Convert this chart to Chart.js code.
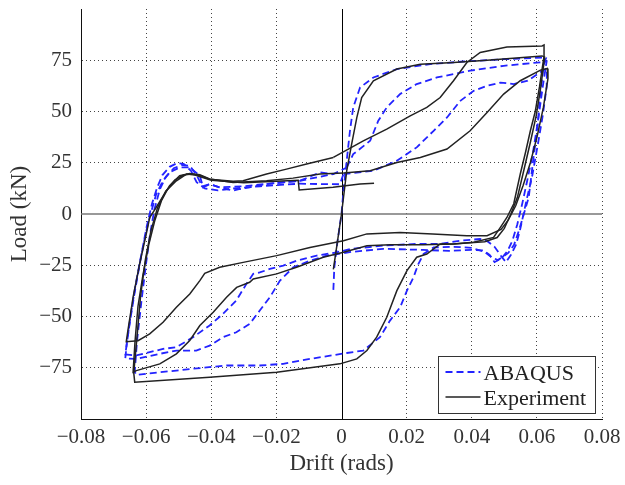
<!DOCTYPE html>
<html lang="en">
  <head>
    <meta charset="utf-8" />
    <title>Load vs drift hysteresis</title>
    <style>
      html, body { margin: 0; padding: 0; background: #fff; }
      #wrap { width: 625px; height: 485px; }
    </style>
  </head>
  <body>
    <div id="wrap"><canvas id="myChart" width="625" height="485"></canvas></div>
    <script src="https://cdn.jsdelivr.net/npm/chart.js"></script>
    <script>
      // axis ticks
      const xTicks = [-0.08, -0.06, -0.04, -0.02, 0, 0.02, 0.04, 0.06, 0.08];
      const yTicks = [-100, -75, -50, -25, 0, 25, 50, 75, 100];
      const seriesNames = ["ABAQUS", "Experiment"];

      // experiment, [drift, load] pairs
      const expLoopStiff = [
        [-0.0025, -27], [-0.0012, -13], [0, 0], [0.0016, 21], [0.0031, 34], [0.0047, 47],
        [0.0062, 56.8], [0.0098, 65], [0.017, 70.7], [0.0242, 73.1], [0.0344, 73.9],
        [0.0447, 75], [0.0616, 77.1], [0.0624, 76.5],
        [0.0612, 62], [0.0598, 48], [0.058, 35], [0.0558, 20], [0.054, 8], [0.052, 0],
        [0.05, -7], [0.0478, -11.5], [0.044, -13.5], [0.0395, -14], [0.0344, -14.6], [0.0303, -14.6],
        [0.0262, -19.5], [0.0231, -21.1], [0.0201, -27.6], [0.017, -37.4], [0.0139, -50.4],
        [0.0108, -60.1], [0.0078, -66.6], [0.0047, -70.7], [-0.0005, -73.1], [-0.0199, -77.2],
        [-0.0405, -79.6], [-0.0635, -82.1], [-0.0638, -77.5],
        [-0.0628, -60], [-0.0617, -40], [-0.0602, -22], [-0.0585, -8], [-0.0565, 3],
        [-0.054, 11], [-0.0512, 16.5], [-0.0485, 19], [-0.046, 19.5], [-0.043, 18.5],
        [-0.0405, 17], [-0.0333, 16], [-0.0302, 16.2], [-0.023, 19.5], [-0.0169, 21.9],
        [-0.0107, 24.4], [-0.0025, 27.6]
      ];
      const expLoopS = [
        [-0.0025, 27.6], [0.0067, 35.7], [0.0139, 41.4], [0.0211, 47.9], [0.0262, 52],
        [0.0303, 56.8], [0.0344, 65], [0.0385, 73.9], [0.0426, 78.8], [0.0508, 81.5],
        [0.0616, 82], [0.0622, 82.5], [0.0622, 77],
        [0.0608, 62], [0.0595, 50], [0.058, 40.6], [0.0565, 30], [0.0549, 19.5], [0.0529, 5],
        [0.0508, -1.7], [0.0488, -6.5], [0.0467, -11.4], [0.0406, -13.8], [0.0344, -14.6],
        [0.025, -15], [0.015, -15], [0.0078, -15.5], [0.0006, -18.7], [-0.0056, -21.1],
        [-0.0138, -26], [-0.0199, -29.2], [-0.0271, -31.7], [-0.0282, -33.3], [-0.0322, -35.8],
        [-0.0353, -40.6], [-0.0394, -47.9], [-0.0435, -54.4], [-0.0466, -61.7], [-0.0507, -68.2],
        [-0.0558, -73.1], [-0.063, -76.4], [-0.064, -77.2],
        [-0.0634, -62], [-0.0625, -45], [-0.061, -30], [-0.0592, -15], [-0.0573, -3],
        [-0.0553, 6.5], [-0.0528, 13.8], [-0.0497, 18.7], [-0.0466, 19.8], [-0.0435, 19.2],
        [-0.0405, 17.1], [-0.0333, 15.4], [-0.023, 16.2], [-0.0149, 17.5], [-0.0066, 19.5],
        [0.0006, 20]
      ];
      const expLoopLow = [
        [0.0006, 20], [0.0088, 21.1], [0.017, 25.1], [0.0242, 27.6], [0.0324, 31.7],
        [0.0395, 40.6], [0.0447, 49.5], [0.0498, 58.5], [0.0549, 65], [0.0611, 70.2],
        [0.0632, 71], [0.0634, 66],
        [0.062, 52], [0.0601, 38], [0.058, 25], [0.0558, 14], [0.0535, 4], [0.0512, -3],
        [0.049, -7.5], [0.0447, -10.6], [0.0385, -10.6], [0.028, -9.7], [0.018, -9],
        [0.0078, -9.7], [0.0006, -13], [-0.0097, -16.3], [-0.0199, -20.3], [-0.0302, -23.6],
        [-0.0374, -26], [-0.042, -28.9], [-0.0435, -32.5], [-0.0466, -39], [-0.0507, -45.5],
        [-0.0548, -52.8], [-0.0589, -58.5], [-0.0625, -61.8], [-0.0661, -62.3],
        [-0.0656, -56.9], [-0.064, -40.6], [-0.062, -24.4], [-0.06, -10], [-0.0589, -1.7],
        [-0.0569, 3.2], [-0.0538, 11.4], [-0.0507, 16.2], [-0.0476, 19.5], [-0.045, 19],
        [-0.04, 16.5], [-0.03, 15.2], [-0.02, 16], [-0.0133, 16.5], [-0.013, 11.7],
        [-0.0026, 13], [0.0057, 14.6], [0.01, 15]
      ];

      // ABAQUS model, [drift, load] pairs
      const abqLoopOuter = [
        [-0.0025, -37], [-0.0022, -26], [-0.0012, -13], [0, 0], [0.0006, 11.4], [0.0026, 40.6],
        [0.0036, 52], [0.0057, 61.7], [0.0098, 66.6], [0.017, 70.7], [0.0272, 73.1],
        [0.0375, 74.4], [0.0498, 75.5], [0.0616, 76.3], [0.0628, 76],
        [0.0621, 73], [0.061, 58], [0.0601, 40.6], [0.059, 28], [0.0575, 8.1], [0.056, 0],
        [0.0545, -8], [0.053, -15], [0.0512, -19], [0.0495, -21], [0.048, -22.5], [0.046, -21],
        [0.044, -18.5], [0.04, -16.5], [0.0345, -16], [0.0283, -16.3],
        [0.0252, -19.5], [0.0236, -24.4], [0.0221, -30.9], [0.0201, -37.4], [0.018, -45.5],
        [0.0149, -52], [0.0118, -60.1], [0.0067, -66.6], [0.0016, -67.8], [-0.0097, -70.7],
        [-0.0179, -73.1], [-0.0251, -73.9], [-0.0353, -73.9], [-0.0456, -75.5], [-0.0558, -77.2],
        [-0.063, -78.5], [-0.0635, -77],
        [-0.0628, -62], [-0.0614, -42], [-0.06, -24], [-0.0588, -10], [-0.0575, 2],
        [-0.0558, 12], [-0.054, 18], [-0.0515, 22.3], [-0.049, 24], [-0.0466, 23.5],
        [-0.0445, 19], [-0.0428, 13.5], [-0.0405, 14.6], [-0.0374, 13], [-0.0333, 11.4],
        [-0.0312, 12.2], [-0.023, 14.6], [-0.0128, 16.2], [-0.0025, 19.5], [0.0016, 22.7]
      ];
      const abqLoopMid = [
        [0.0016, 22.7], [0.0036, 29.2], [0.0088, 35.7], [0.0113, 45.5], [0.0139, 52],
        [0.018, 58.5], [0.0231, 63.4], [0.0293, 66.6], [0.0395, 69.9], [0.0498, 72.3],
        [0.0611, 74], [0.063, 74.5],
        [0.0618, 62], [0.0604, 46], [0.0588, 30], [0.057, 16], [0.0555, 5], [0.054, -5],
        [0.0525, -13], [0.051, -18], [0.0492, -21.5], [0.047, -23.5], [0.0455, -20],
        [0.0436, -17.8], [0.04, -17.5], [0.033, -18], [0.025, -17.5], [0.0128, -17], [0.003, -18.5],
        [-0.0046, -20.3], [-0.0097, -22.8], [-0.0148, -26], [-0.0189, -32.5], [-0.022, -40.6],
        [-0.0251, -47.1], [-0.0282, -53.6], [-0.0323, -57.7], [-0.0364, -60.1], [-0.0405, -64.2],
        [-0.0446, -66.6], [-0.0507, -66.6], [-0.0558, -68.2], [-0.063, -70.7], [-0.0664, -70.5],
        [-0.066, -64], [-0.0648, -50], [-0.0633, -35], [-0.0615, -20], [-0.0598, -6],
        [-0.0582, 5], [-0.0566, 13], [-0.055, 19], [-0.0528, 23], [-0.0505, 24.8],
        [-0.0485, 24.5], [-0.0462, 21], [-0.0445, 15.5], [-0.042, 12.5], [-0.038, 11.5],
        [-0.033, 12.5], [-0.025, 13.5], [-0.0128, 14.8], [-0.0066, 14.6], [-0.0005, 14.5],
        [0.0006, 19.5]
      ];
      const abqLoopInner = [
        [0.0006, 19.5], [0.0098, 21.1], [0.017, 26], [0.0231, 32.5], [0.0283, 40.6],
        [0.0324, 47.1], [0.0365, 55.2], [0.0406, 60.1], [0.0447, 62.5], [0.0488, 64.1],
        [0.0529, 63.4], [0.0572, 65], [0.0616, 69.8], [0.0631, 71],
        [0.063, 62], [0.0618, 48], [0.0602, 33], [0.0585, 18], [0.057, 8], [0.0559, 0],
        [0.0548, -8], [0.0536, -15], [0.052, -20], [0.0505, -23.5], [0.049, -20.5],
        [0.047, -16], [0.045, -13.5], [0.0426, -12.2], [0.0365, -13], [0.0303, -14.6],
        [0.023, -14.6], [0.0128, -15.4], [0.0026, -17.1], [-0.0015, -18.7],
        [-0.0076, -20.3], [-0.0138, -22.8], [-0.0179, -25.2], [-0.022, -26.8], [-0.0251, -28.5],
        [-0.0271, -29.2], [-0.0292, -34.1], [-0.0323, -42.2], [-0.0364, -48.7], [-0.0405, -54.4],
        [-0.0456, -60.1], [-0.0507, -65], [-0.0548, -65.8], [-0.0589, -67.4], [-0.063, -69],
        [-0.0664, -68.5],
        [-0.0652, -55], [-0.0637, -40], [-0.0618, -23], [-0.0602, -10], [-0.0589, -1.6],
        [-0.0569, 9.7], [-0.0548, 16.2], [-0.0528, 20.3], [-0.0497, 22.7], [-0.0466, 22.7],
        [-0.0435, 18.7], [-0.0425, 13], [-0.0405, 14.6], [-0.0374, 13], [-0.03, 13.5],
        [-0.02, 15.2], [-0.0128, 16.2], [-0.0066, 20.3], [-0.0025, 19.5]
      ];

      const expLoops = [expLoopStiff, expLoopS, expLoopLow];
      const abqLoops = [abqLoopOuter, abqLoopMid, abqLoopInner];

      const BLUE = "rgb(35, 35, 255)";
      const BLACK = "#222";
      const SERIF = '"Liberation Serif", "DejaVu Serif", serif';
      const nearZero = (v) => Math.abs(v) < 1e-9;

      const toPoints = (loop) => loop.map(([x, y]) => ({ x: x, y: y }));

      const datasets = [];
      expLoops.forEach((loop) => {
        datasets.push({
          label: seriesNames[1],
          data: toPoints(loop),
          showLine: true,
          borderColor: BLACK,
          borderWidth: 1.5,
          pointRadius: 0,
          tension: 0,
          fill: false,
        });
      });
      abqLoops.forEach((loop) => {
        datasets.push({
          label: seriesNames[0],
          data: toPoints(loop),
          showLine: true,
          borderColor: BLUE,
          borderWidth: 1.8,
          borderDash: [7, 4],
          pointRadius: 0,
          tension: 0,
          fill: false,
        });
      });

      // solid zero lines + boxed legend in lower right
      const extras = {
        id: "extras",
        beforeDatasetsDraw(chart) {
          const { ctx, chartArea: a, scales } = chart;
          const y0 = scales.y.getPixelForValue(0);
          const x0 = scales.x.getPixelForValue(0);
          ctx.save();
          ctx.strokeStyle = "#777";
          ctx.lineWidth = 1.6;
          ctx.beginPath();
          ctx.moveTo(a.left, y0);
          ctx.lineTo(a.right, y0);
          ctx.stroke();
          ctx.strokeStyle = "#000";
          ctx.lineWidth = 1;
          ctx.beginPath();
          ctx.moveTo(Math.round(x0) + 0.5, a.top);
          ctx.lineTo(Math.round(x0) + 0.5, a.bottom);
          ctx.stroke();
          ctx.restore();
        },
        afterDatasetsDraw(chart) {
          const { ctx, chartArea: a } = chart;
          const bx = a.right - 163.5, by = a.bottom - 62.5, bw = 157, bh = 57;
          ctx.save();
          ctx.fillStyle = "#fff";
          ctx.fillRect(bx, by, bw, bh);
          ctx.strokeStyle = "#333";
          ctx.lineWidth = 1;
          ctx.strokeRect(bx, by, bw, bh);
          const rows = [
            { name: seriesNames[0], color: BLUE, dash: [7, 4], w: 1.8 },
            { name: seriesNames[1], color: BLACK, dash: [], w: 1.5 },
          ];
          ctx.font = "22px " + SERIF;
          ctx.textBaseline = "alphabetic";
          ctx.textAlign = "left";
          rows.forEach((r, i) => {
            const ly = by + 15.5 + i * 25;
            ctx.strokeStyle = r.color;
            ctx.lineWidth = r.w;
            ctx.setLineDash(r.dash);
            ctx.beginPath();
            ctx.moveTo(bx + 7, ly);
            ctx.lineTo(bx + 42, ly);
            ctx.stroke();
            ctx.setLineDash([]);
            ctx.fillStyle = "#222";
            ctx.fillText(r.name, bx + 45, ly + 7.5);
          });
          ctx.restore();
        },
      };

      const gridColor = (c) =>
        nearZero(c.tick.value) || c.tick.value === 100 ? "rgba(0,0,0,0)" : "#444";

      const config = {
        type: "scatter",
        data: { datasets },
        plugins: [extras],
        options: {
          responsive: false,
          animation: false,
          layout: { padding: { left: 0, right: 23, top: 9, bottom: 0 } },
          plugins: {
            legend: { display: false },
            tooltip: { enabled: false },
          },
          scales: {
            x: {
              type: "linear",
              min: xTicks[0],
              max: xTicks[xTicks.length - 1],
              afterBuildTicks: (s) => { s.ticks = xTicks.map((v) => ({ value: v })); },
              afterFit: (s) => { s.height = 66; s.paddingLeft = 0; s.paddingRight = 0; },
              grid: { color: gridColor, lineWidth: 1, drawTicks: false },
              border: { display: true, color: "#111", width: 1, dash: [1, 3] },
              ticks: {
                padding: 6,
                color: "#333",
                font: { family: SERIF, size: 21 },
                maxRotation: 0,
                callback: (v) => (nearZero(v) ? "0" : (v < 0 ? "\u2212" : "") + Math.abs(v).toFixed(2)),
              },
              title: {
                display: true,
                text: "Drift (rads)",
                color: "#333",
                font: { family: SERIF, size: 23 },
                padding: { top: 0, bottom: 7 },
              },
            },
            y: {
              type: "linear",
              min: yTicks[0],
              max: yTicks[yTicks.length - 1],
              afterBuildTicks: (s) => { s.ticks = yTicks.map((v) => ({ value: v })); },
              afterFit: (s) => { s.width = 81; s.paddingTop = 0; s.paddingBottom = 0; },
              grid: { color: gridColor, lineWidth: 1, drawTicks: false },
              border: { display: true, color: "#111", width: 1, dash: [1, 3] },
              ticks: {
                padding: 9,
                color: "#333",
                font: { family: SERIF, size: 21 },
                callback: (v) => (Math.abs(v) === 100 ? "" : nearZero(v) ? "0" : (v < 0 ? "\u2212" : "") + Math.abs(v)),
              },
              title: {
                display: true,
                text: "Load (kN)",
                color: "#333",
                font: { family: SERIF, size: 23 },
                padding: { top: 6, bottom: 0 },
              },
            },
          },
        },
      };

      const myChart = new Chart(document.getElementById("myChart"), config);
    </script>
  </body>
</html>
